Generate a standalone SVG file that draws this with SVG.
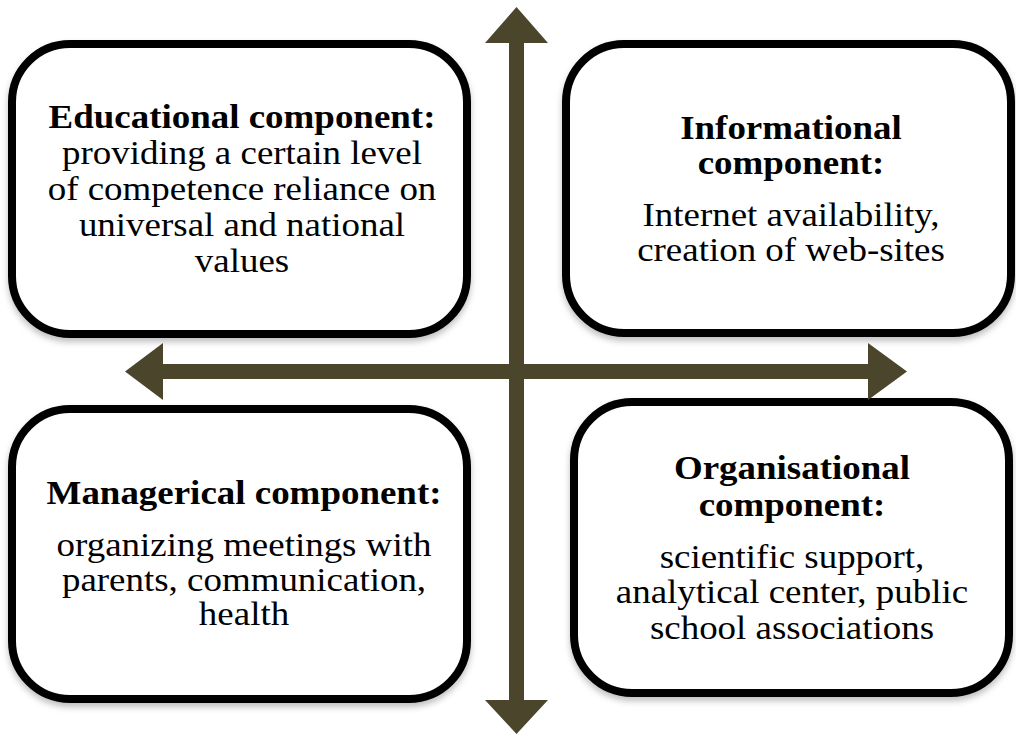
<svg xmlns="http://www.w3.org/2000/svg" width="1016" height="735" viewBox="0 0 1016 735">
<defs>
<filter id="sh" x="-5%" y="-5%" width="110%" height="115%">
<feDropShadow dx="0" dy="4" stdDeviation="3" flood-color="#000" flood-opacity="0.25"/>
</filter>
<style>
.box{fill:#fff;stroke:#000;stroke-width:8}
.t{font-family:"Liberation Serif","Times New Roman",serif;font-size:33px;fill:#000;text-anchor:middle}
.b{font-weight:bold}
.arr{fill:#4b452c}
</style>
</defs>
<rect width="1016" height="735" fill="#fff"/>
<g id="educational">
<rect class="box" filter="url(#sh)" x="12" y="44" width="455" height="290" rx="58"/>
<g transform="translate(242 0) scale(1.12 1)">
<text class="t b" x="0" y="128">Educational component:</text>
<text class="t" x="0" y="164">providing a certain level</text>
<text class="t" x="0" y="200">of competence reliance on</text>
<text class="t" x="0" y="236">universal and national</text>
<text class="t" x="0" y="272">values</text>
</g>
</g>
<g id="informational">
<rect class="box" filter="url(#sh)" x="566" y="44" width="445" height="289" rx="58"/>
<g transform="translate(791 0) scale(1.12 1)">
<text class="t b" x="0" y="139">Informational</text>
<text class="t b" x="0" y="174">component:</text>
<text class="t" x="0" y="226">Internet availability,</text>
<text class="t" x="0" y="261">creation of web-sites</text>
</g>
</g>
<g id="managerical">
<rect class="box" filter="url(#sh)" x="12" y="409" width="455" height="290" rx="58"/>
<g transform="translate(244 0) scale(1.12 1)">
<text class="t b" x="0" y="504">Managerical component:</text>
<text class="t" x="0" y="556">organizing meetings with</text>
<text class="t" x="0" y="591">parents, communication,</text>
<text class="t" x="0" y="625">health</text>
</g>
</g>
<g id="organisational">
<rect class="box" filter="url(#sh)" x="574" y="402" width="435" height="291" rx="58"/>
<g transform="translate(792 0) scale(1.12 1)">
<text class="t b" x="0" y="479">Organisational</text>
<text class="t b" x="0" y="516">component:</text>
<text class="t" x="0" y="568">scientific support,</text>
<text class="t" x="0" y="603">analytical center, public</text>
<text class="t" x="0" y="639">school associations</text>
</g>
</g>
<g id="connectors">
<polygon class="arr" points="516.5,7 548,43 524,43 524,700 548,700 516.5,734 485,700 509,700 509,43 485,43"/>
<polygon class="arr" points="125,371.5 163,343 163,364 868,364 868,343 907,371.5 868,400 868,379 163,379 163,400"/>
</g>
</svg>
